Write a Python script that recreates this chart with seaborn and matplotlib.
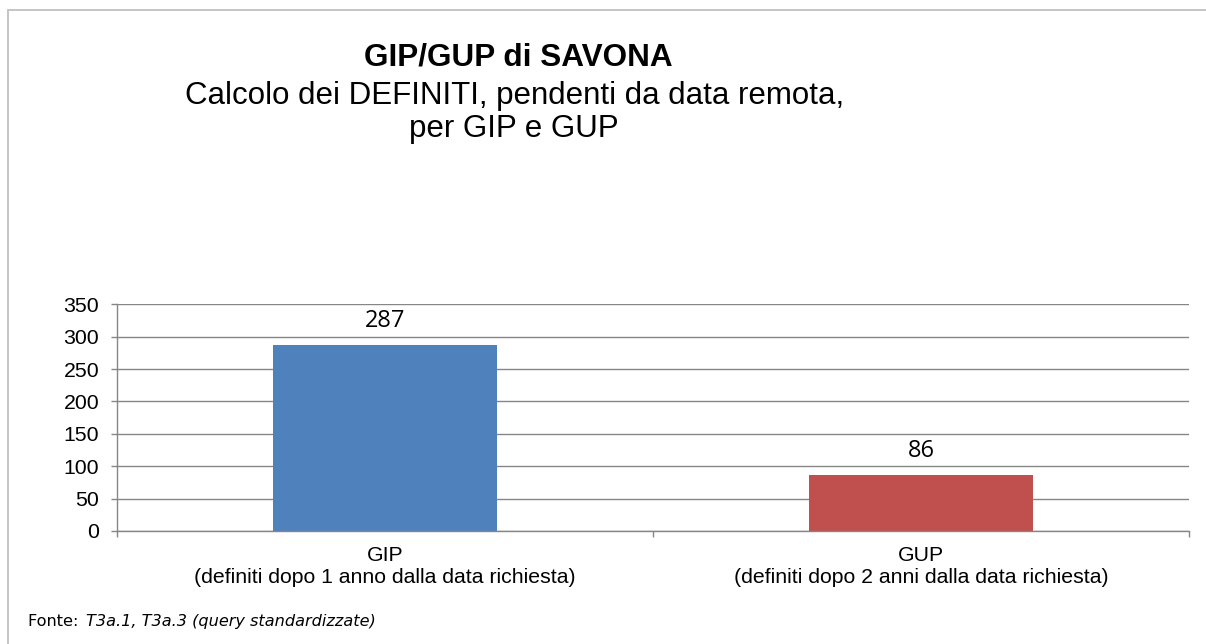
import matplotlib
matplotlib.use("Agg")
import matplotlib.pyplot as plt
from matplotlib.lines import Line2D
import seaborn as sns

# ---- data ----
categories = ["GIP\n(definiti dopo 1 anno dalla data richiesta)",
              "GUP\n(definiti dopo 2 anni dalla data richiesta)"]
values = [287, 86]
bar_colors = ["#4F81BD", "#C0504D"]
yticks = [0, 50, 100, 150, 200, 250, 300, 350]
title_lines = ["GIP/GUP di SAVONA",
               "Calcolo dei DEFINITI, pendenti da data remota,",
               "per GIP e GUP"]
source_label = "Fonte: "
source_text = "T3a.1, T3a.3 (query standardizzate)"

sns.set_theme(style="white")
plt.rcParams["font.family"] = ["Liberation Sans", "DejaVu Sans"]

W, H = 1206, 644
fig = plt.figure(figsize=(W / 100, H / 100), dpi=100)
fig.patch.set_facecolor("white")

def fx(px):
    return px / W

def fy(py):
    return 1 - py / H

ax = fig.add_axes([fx(117), fy(531), fx(1189) - fx(117), fy(304.3) - fy(531)])

sns.barplot(x=categories, y=values, hue=categories, palette=bar_colors,
            width=0.418, legend=False, ax=ax, saturation=1, linewidth=0)

grid_c = "#868686"
ax.set_ylim(0, 350)
ax.set_xlim(-0.5, 1.5)
ax.set_yticks(yticks)
ax.set_yticklabels([str(t) for t in yticks])
ax.yaxis.grid(True, color=grid_c, linewidth=1.0)
ax.set_axisbelow(True)
for s in ["top", "right"]:
    ax.spines[s].set_visible(False)
for s in ["left", "bottom"]:
    ax.spines[s].set_color(grid_c)
    ax.spines[s].set_linewidth(1.0)
ax.set_xlabel("")
ax.set_ylabel("")

ax.tick_params(axis="y", which="major", length=4.3, width=1.0, color=grid_c,
               pad=8.6, labelsize=15.3, labelcolor="black", left=True)
ax.set_xticks([-0.5, 0.5, 1.5], minor=True)
ax.tick_params(axis="x", which="minor", length=4.3, width=1.0, color=grid_c,
               bottom=True)
ax.tick_params(axis="x", which="major", length=0, pad=11, labelsize=15.3,
               labelcolor="black")
for lbl in ax.get_xticklabels():
    lbl.set_linespacing(1.15)

for p, v in zip(ax.patches, values):
    ax.annotate(str(v), (p.get_x() + p.get_width() / 2, p.get_height()),
                xytext=(0, 13), textcoords="offset points",
                ha="center", va="baseline", fontsize=17,
                family=["Open Sans", "DejaVu Sans"], color="black")

# titles
fig.text(fx(518), fy(66), title_lines[0], ha="center", va="baseline",
         fontsize=22.7, fontweight="bold", color="black")
fig.text(fx(515), fy(104), title_lines[1], ha="center", va="baseline",
         fontsize=22.5, color="black")
fig.text(fx(514), fy(137), title_lines[2], ha="center", va="baseline",
         fontsize=22.5, color="black")

# source
fig.text(fx(28), fy(626), source_label, ha="left", va="baseline",
         fontsize=11.6, family=["DejaVu Sans"], color="black")
fig.text(fx(86), fy(626), source_text, ha="left", va="baseline",
         fontsize=11.6, family=["DejaVu Sans"], style="italic", color="black")

# frame lines (top and left)
border_c = "#C4C4C4"
fig.add_artist(Line2D([fx(8), 1.0], [fy(10), fy(10)], color=border_c,
                      linewidth=1.4, transform=fig.transFigure))
fig.add_artist(Line2D([fx(8), fx(8)], [fy(10), 0.0], color=border_c,
                      linewidth=1.4, transform=fig.transFigure))

fig.savefig("out.png", dpi=100, facecolor="white")
